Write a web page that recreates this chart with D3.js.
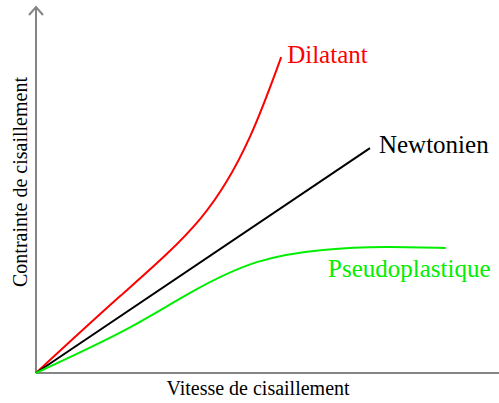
<!DOCTYPE html>
<html>
<head>
<meta charset="utf-8">
<script src="https://cdn.jsdelivr.net/npm/d3@7"></script>
<style>
  html, body { margin: 0; padding: 0; background: #fff; }
  svg { display: block; font-family: "Liberation Serif", "DejaVu Serif", serif; }
</style>
</head>
<body>
<div id="chart"></div>
<script>
// Values, in arbitrary units (0..100 on both axes)
const dilatantX = [0, 18.3, 35.7, 46.5, 53.3];
const dilatantY = [0, 21.3, 42.7, 65.4, 87.5];

const newtonX = [0, 72.6];
const newtonY = [0, 62.3];

const pseudoX = [0, 18.9, 33.5, 48.0, 62.4, 76.1, 89.1];
const pseudoY = [0, 11.6, 22.2, 30.7, 34.1, 34.9, 34.6];

const labels = ['Dilatant', 'Newtonien', 'Pseudoplastique'];
const xTitle = 'Vitesse de cisaillement';
const yTitle = 'Contrainte de cisaillement';

const width = 499, height = 403;

const svg = d3.select('#chart').append('svg')
  .attr('width', width)
  .attr('height', height);

const x = d3.scaleLinear().domain([0, 100]).range([36, 496]);
const y = d3.scaleLinear().domain([0, 100]).range([373, 12]);

const zip = (xs, ys) => xs.map((v, i) => [v, ys[i]]);

const line = d3.line()
  .x(d => x(d[0]))
  .y(d => y(d[1]))
  .curve(d3.curveNatural);

// axes with arrow on the vertical one
const axisColor = '#858585';
svg.append('line')
  .attr('x1', x(0)).attr('x2', width)
  .attr('y1', y(0)).attr('y2', y(0))
  .attr('stroke', axisColor).attr('stroke-width', 2);
svg.append('line')
  .attr('x1', x(0)).attr('x2', x(0))
  .attr('y1', y(0)).attr('y2', 7)
  .attr('stroke', axisColor).attr('stroke-width', 2);
svg.append('path')
  .attr('d', `M${x(0) - 7},15 L${x(0)},7 L${x(0) + 7},15`)
  .attr('fill', 'none')
  .attr('stroke', axisColor).attr('stroke-width', 2);

const series = [
  { pts: zip(dilatantX, dilatantY), color: '#ff0000' },
  { pts: zip(newtonX, newtonY), color: '#000000' },
  { pts: zip(pseudoX, pseudoY), color: '#00ee00' }
];

series.forEach(s => {
  svg.append('path')
    .attr('d', line(s.pts))
    .attr('fill', 'none')
    .attr('stroke', s.color)
    .attr('stroke-width', 2);
});

// curve labels
svg.append('text')
  .attr('x', x(dilatantX[dilatantX.length - 1]) + 6)
  .attr('y', y(dilatantY[dilatantY.length - 1]) + 6)
  .attr('font-size', 25).attr('fill', '#ff0000')
  .text(labels[0]);
svg.append('text')
  .attr('x', x(newtonX[1]) + 9)
  .attr('y', y(newtonY[1]) + 5)
  .attr('font-size', 25).attr('fill', '#000')
  .text(labels[1]);
svg.append('text')
  .attr('x', 328)
  .attr('y', 277)
  .attr('font-size', 25).attr('fill', '#00ee00')
  .text(labels[2]);

// axis titles
svg.append('text')
  .attr('x', 258).attr('y', 395)
  .attr('text-anchor', 'middle')
  .attr('font-size', 20).attr('fill', '#000')
  .text(xTitle);
svg.append('text')
  .attr('transform', 'translate(27,182) rotate(-90)')
  .attr('text-anchor', 'middle')
  .attr('font-size', 20).attr('fill', '#000')
  .text(yTitle);
</script>
</body>
</html>
